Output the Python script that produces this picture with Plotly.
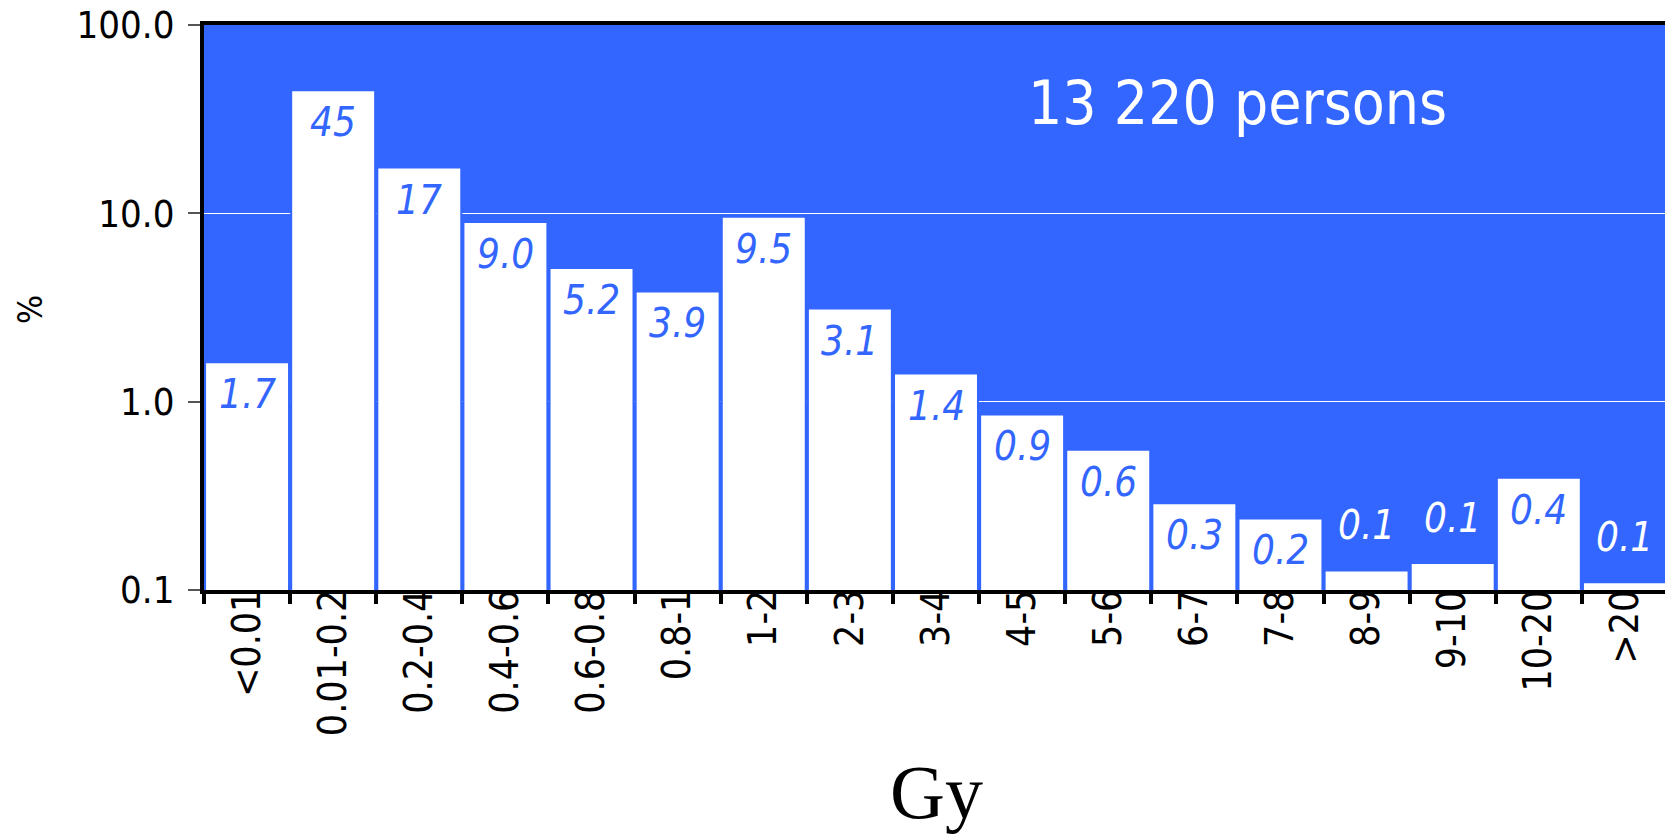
import plotly.graph_objects as go
import math

categories = ["<0.01", "0.01-0.2", "0.2-0.4", "0.4-0.6", "0.6-0.8", "0.8-1", "1-2", "2-3",
              "3-4", "4-5", "5-6", "6-7", "7-8", "8-9", "9-10", "10-20", ">20"]
values = [1.62, 45.0, 17.5, 9.0, 5.13, 3.85, 9.6, 3.12, 1.41, 0.855, 0.555, 0.289, 0.240,
          0.127, 0.139, 0.395, 0.110]
labels = ["1.7", "45", "17", "9.0", "5.2", "3.9", "9.5", "3.1", "1.4", "0.9", "0.6", "0.3",
          "0.2", "0.1", "0.1", "0.4", "0.1"]
y_tickvals = [0.1, 1, 10, 100]
y_ticktext = ["0.1", "1.0", "10.0", "100.0"]

BLUE = "#3366FF"
FONT = "DejaVu Sans Condensed, DejaVu Sans, sans-serif"

fig = go.Figure()
fig.add_trace(go.Bar(
    x=categories, y=values,
    marker=dict(color="white", line=dict(color=BLUE, width=2)),
    hoverinfo="skip",
))

annotations = []
for c, v, t in zip(categories, values, labels):
    inside = v >= 0.2
    annotations.append(dict(
        x=c, y=math.log10(v), xref="x", yref="y", text=t, showarrow=False,
        yshift=-32 if inside else 45,
        font=dict(family=FONT, size=40, color=BLUE if inside else "white", style="italic"),
    ))

annotations.append(dict(text="13 220 persons", xref="paper", yref="paper", x=0.706, y=0.862,
                        showarrow=False, xanchor="center", yanchor="middle",
                        font=dict(family=FONT, size=60, color="white")))
annotations.append(dict(text="%", xref="paper", yref="paper", x=-0.119, y=0.497,
                        showarrow=False, textangle=-90, xanchor="center", yanchor="middle",
                        font=dict(family=FONT, size=34, color="black")))
annotations.append(dict(text="Gy", xref="paper", yref="paper", x=0.5, y=-0.357,
                        showarrow=False, xanchor="center", yanchor="middle",
                        font=dict(family="Liberation Serif, Times New Roman, serif", size=76,
                                  color="black")))

fig.update_layout(
    width=1665, height=828,
    margin=dict(l=196, r=5, t=17, b=246, autoexpand=False),
    paper_bgcolor="white", plot_bgcolor=BLUE,
    bargap=0.025, showlegend=False,
    annotations=annotations,
    xaxis=dict(type="category", tickson="boundaries", ticks="outside", ticklen=10,
               tickwidth=4, tickcolor="black", showline=True, linewidth=4, linecolor="black",
               mirror=True, showgrid=False, tickangle=-90, ticklabelstandoff=-20,
               automargin=False,
               tickfont=dict(family=FONT, size=39, color="black")),
    yaxis=dict(type="log", range=[-1, 2], tickvals=y_tickvals, ticktext=y_ticktext,
               ticks="outside", ticklen=12, tickwidth=2, tickcolor="#555555",
               showline=True, linewidth=4, linecolor="black", mirror=True,
               showgrid=True, gridcolor="white", gridwidth=1, zeroline=False,
               ticklabeloverflow="allow", ticklabelstandoff=6, automargin=False,
               tickfont=dict(family=FONT, size=38, color="black")),
)

fig.write_html("out.html")
